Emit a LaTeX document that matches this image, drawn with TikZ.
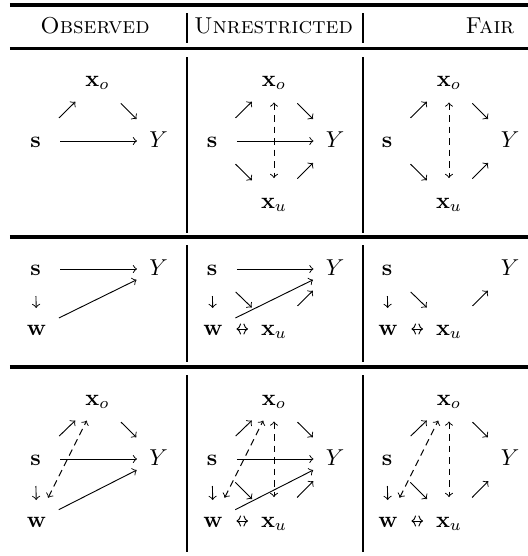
\documentclass[tikz,border=0pt]{standalone}
\usetikzlibrary{arrows,arrows.meta}
\begin{document}
\begin{tikzpicture}[x=0.4348pt,y=-0.4348pt,>=to,
  v/.style={inner sep=0pt,outer sep=0pt,text height=1.5ex,text depth=0.25ex},
  hd/.style={anchor=base,inner sep=0pt},
  dg/.style={->,shorten <=14.35pt,shorten >=13.48pt},
  sy/.style={->,shorten <=10.87pt,shorten >=9.35pt},
  wy/.style={->,shorten <=10.87pt,shorten >=10.65pt},
  sw/.style={->,shorten <=11.74pt,shorten >=9.13pt},
  dsh/.style={dash pattern=on 3pt off 2pt},
  ou/.style={<->,dsh,shorten <=9.78pt,shorten >=10.43pt},
  wo/.style={<->,dsh,shorten <=11.3pt,shorten >=10.5pt},
  wu/.style={arrows={To[length=2pt,width=4.8pt]}-{To[length=2pt,width=4.8pt]},shorten <=10.2pt,shorten >=11.3pt},
  toprl/.style={line width=1.5pt},
  midrl/.style={line width=1.1pt},
  rowrl/.style={line width=1.6pt},
  vbar/.style={line width=1pt}]
\useasboundingbox (0,0) rectangle (528,556);
% horizontal rules
\draw[toprl] (10,5) -- (528,5);
\draw[midrl] (10,48.3) -- (528,48.3);
\draw[rowrl] (10,237) -- (528,237);
\draw[rowrl] (10,367) -- (528,367);
% vertical bars
\foreach \xx in {187,362.7}{
  \draw[vbar] (\xx,13) -- (\xx,43);
  \draw[vbar] (\xx,57) -- (\xx,233);
  \draw[vbar] (\xx,245) -- (\xx,362);
  \draw[vbar] (\xx,375) -- (\xx,552);
}
% header
\node[hd] (hobs) at (95,33) {\textsc{Observed}};
\node[hd] (hunr) at (273.5,33) {\textsc{Unrestricted}};
\node[hd] (hfair) at (490,33) {\textsc{Fair}};
% ---------- row 1 ----------
\begin{scope}[shift={(97.5,0)},name prefix=oa-]
  \node[v] (xo) at (0,80) {$\mathbf{x}_o$};
  \node[v] (s) at (-62,141) {$\mathbf{s}$};
  \node[v] (y) at (61,141) {$Y$};
  \draw[dg] (s.center) -- (xo.center);
  \draw[dg] (xo.center) -- (y.center);
  \draw[sy] (s.center) -- (y.center);
\end{scope}
\begin{scope}[shift={(274,0)},name prefix=ua-]
  \node[v] (xo) at (0,80) {$\mathbf{x}_o$};
  \node[v] (s) at (-62,141) {$\mathbf{s}$};
  \node[v] (y) at (61,141) {$Y$};
  \node[v] (xu) at (0,202) {$\mathbf{x}_u$};
  \draw[dg] (s.center) -- (xo.center);
  \draw[dg] (xo.center) -- (y.center);
  \draw[dg] (s.center) -- (xu.center);
  \draw[dg] (xu.center) -- (y.center);
  \draw[ou] (xo.center) -- (xu.center);
  \draw[sy] (s.center) -- (y.center);
\end{scope}
\begin{scope}[shift={(449,0)},name prefix=fa-]
  \node[v] (xo) at (0,80) {$\mathbf{x}_o$};
  \node[v] (s) at (-62,141) {$\mathbf{s}$};
  \node[v] (y) at (61,141) {$Y$};
  \node[v] (xu) at (0,202) {$\mathbf{x}_u$};
  \draw[dg] (s.center) -- (xo.center);
  \draw[dg] (xo.center) -- (y.center);
  \draw[dg] (s.center) -- (xu.center);
  \draw[dg] (xu.center) -- (y.center);
  \draw[ou] (xo.center) -- (xu.center);
\end{scope}
% ---------- row 2 ----------
\begin{scope}[shift={(97.5,0)},name prefix=ob-]
  \node[v] (s) at (-62,269) {$\mathbf{s}$};
  \node[v] (y) at (61,269) {$Y$};
  \node[v] (w) at (-61,329) {$\mathbf{w}$};
  \draw[sy] (s.center) -- (y.center);
  \draw[sw] (s.center) -- (w.center);
  \draw[wy] (w.center) -- (y.center);
\end{scope}
\begin{scope}[shift={(274,0)},name prefix=ub-]
  \node[v] (s) at (-62,269) {$\mathbf{s}$};
  \node[v] (y) at (61,269) {$Y$};
  \node[v] (w) at (-61,329) {$\mathbf{w}$};
  \node[v] (xu) at (0,329) {$\mathbf{x}_u$};
  \draw[sy] (s.center) -- (y.center);
  \draw[sw] (s.center) -- (w.center);
  \draw[dg] (s.center) -- (xu.center);
  \draw[dg] (xu.center) -- (y.center);
  \draw[wu] (w.center) -- (xu.center);
  \draw[wy] (w.center) -- (y.center);
\end{scope}
\begin{scope}[shift={(449,0)},name prefix=fb-]
  \node[v] (s) at (-62,269) {$\mathbf{s}$};
  \node[v] (y) at (61,269) {$Y$};
  \node[v] (w) at (-61,329) {$\mathbf{w}$};
  \node[v] (xu) at (0,329) {$\mathbf{x}_u$};
  \draw[sw] (s.center) -- (w.center);
  \draw[dg] (s.center) -- (xu.center);
  \draw[dg] (xu.center) -- (y.center);
  \draw[wu] (w.center) -- (xu.center);
\end{scope}
% ---------- row 3 ----------
\begin{scope}[shift={(97.5,0)},name prefix=oc-]
  \node[v] (xo) at (0,399) {$\mathbf{x}_o$};
  \node[v] (s) at (-62,459) {$\mathbf{s}$};
  \node[v] (y) at (61,459) {$Y$};
  \node[v] (w) at (-61,521) {$\mathbf{w}$};
  \draw[dg] (s.center) -- (xo.center);
  \draw[dg] (xo.center) -- (y.center);
  \draw[wo] (w.center) -- (xo.center);
  \draw[sy] (s.center) -- (y.center);
  \draw[sw] (s.center) -- (w.center);
  \draw[wy] (w.center) -- (y.center);
\end{scope}
\begin{scope}[shift={(274,0)},name prefix=uc-]
  \node[v] (xo) at (0,399) {$\mathbf{x}_o$};
  \node[v] (s) at (-62,459) {$\mathbf{s}$};
  \node[v] (y) at (61,459) {$Y$};
  \node[v] (w) at (-61,521) {$\mathbf{w}$};
  \node[v] (xu) at (0,521) {$\mathbf{x}_u$};
  \draw[dg] (s.center) -- (xo.center);
  \draw[dg] (xo.center) -- (y.center);
  \draw[wo] (w.center) -- (xo.center);
  \draw[ou] (xo.center) -- (xu.center);
  \draw[sy] (s.center) -- (y.center);
  \draw[sw] (s.center) -- (w.center);
  \draw[dg] (s.center) -- (xu.center);
  \draw[dg] (xu.center) -- (y.center);
  \draw[wy] (w.center) -- (y.center);
  \draw[wu] (w.center) -- (xu.center);
\end{scope}
\begin{scope}[shift={(449,0)},name prefix=fc-]
  \node[v] (xo) at (0,399) {$\mathbf{x}_o$};
  \node[v] (s) at (-62,459) {$\mathbf{s}$};
  \node[v] (y) at (61,459) {$Y$};
  \node[v] (w) at (-61,521) {$\mathbf{w}$};
  \node[v] (xu) at (0,521) {$\mathbf{x}_u$};
  \draw[dg] (s.center) -- (xo.center);
  \draw[dg] (xo.center) -- (y.center);
  \draw[wo] (w.center) -- (xo.center);
  \draw[ou] (xo.center) -- (xu.center);
  \draw[sw] (s.center) -- (w.center);
  \draw[dg] (s.center) -- (xu.center);
  \draw[dg] (xu.center) -- (y.center);
  \draw[wu] (w.center) -- (xu.center);
\end{scope}
\end{tikzpicture}
\end{document}
